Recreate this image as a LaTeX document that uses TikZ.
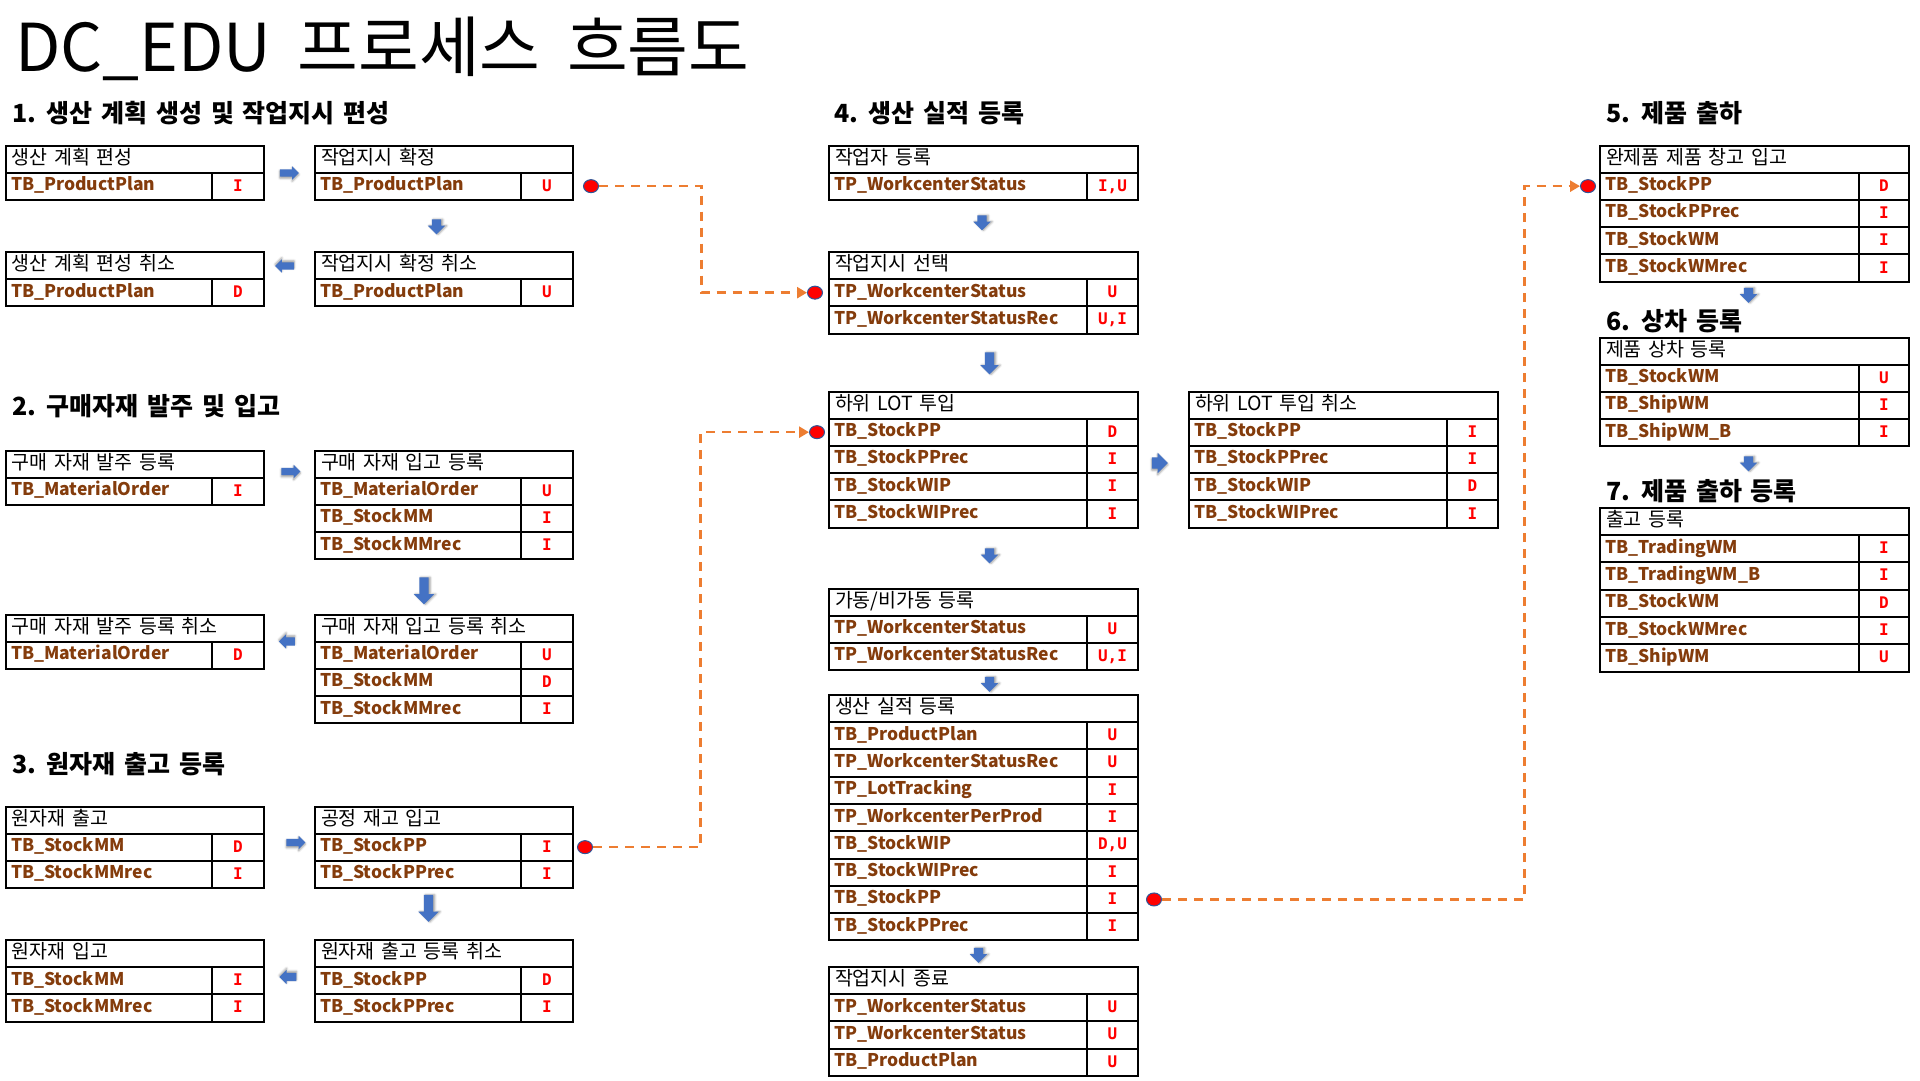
\documentclass[tikz,border=0pt]{standalone}
\usepackage{fontspec}
\setmainfont{Noto Sans CJK KR}
\newfontfamily\codefont{DejaVu Sans Mono}
\usetikzlibrary{shapes.arrows,shapes.geometric,positioning,arrows.meta}
\usetikzlibrary{backgrounds}
\usetikzlibrary{shadows.blur}

\definecolor{tblbrown}{RGB}{132,60,12}
\definecolor{arrowblue}{RGB}{68,114,196}
\definecolor{linkorange}{RGB}{237,125,49}
\definecolor{dotblue}{RGB}{47,85,151}

\newcommand{\widespace}[1]{\spaceskip=#1\relax}

% table: name, x, y, name column, code column, title, rows
\newcommand{\dbtable}[7]{%
  \pgfmathsetmacro{\tblw}{#4+#5-12}%
  \pgfmathsetmacro{\namew}{#4-10}%
  \node[tblhead, text width=\tblw pt, anchor=north west] (#1) at (#2,#3) {#6};
  \foreach \tname/\tcode [count=\k] in {#7}{
    \node[tblname, text width=\namew pt, anchor=north west] (#1-n\k) at (#2,#3+27+27.3*\k-27.3) {\tname};
    \node[tblcode, minimum width=#5pt, anchor=north west] (#1-c\k) at (#2+#4,#3+27+27.3*\k-27.3) {\tcode};
  }%
}

\begin{document}
\begin{tikzpicture}[x=1pt, y=-1pt,
  tblhead/.style={draw, line width=2pt, inner xsep=6pt, inner ysep=0pt, minimum height=27pt, align=left, text height=14pt, text depth=4pt, font={\fontsize{19.5}{21}\selectfont\widespace{0.4em}}},
  tblname/.style={draw, line width=2pt, inner xsep=5pt, inner ysep=0pt, minimum height=27.3pt, align=left, text height=13pt, text depth=4pt, text=tblbrown, font=\fontsize{17.5}{20}\selectfont\bfseries},
  tblcode/.style={draw, line width=2pt, inner sep=0pt, minimum height=27.3pt, text=red, text height=12pt, text depth=2pt, font=\codefont\bfseries\fontsize{16}{18}\selectfont},
  sechead/.style={anchor=west, inner sep=0pt, font={\fontsize{25}{27}\selectfont\bfseries\widespace{0.35em}}},
  blockarrow/.style={single arrow, fill=arrowblue, draw=none, inner xsep=0pt},
  arrowright/.style={blockarrow, blur shadow={shadow xshift=0pt, shadow yshift=-1.5pt, shadow blur steps=4}},
  arrowdown/.style={blockarrow, rotate=-90, blur shadow={shadow xshift=1.5pt, shadow yshift=0pt, shadow blur steps=4}},
  arrowleft/.style={blockarrow, rotate=180, blur shadow={shadow xshift=0pt, shadow yshift=1.5pt, shadow blur steps=4}},
  pindot/.style={ellipse, fill=red, draw=dotblue, line width=1pt, minimum width=15pt, minimum height=13pt, inner sep=0pt},
  linkline/.style={linkorange, line width=2.5pt, dash pattern=on 9pt off 7pt, -{Triangle[length=10pt,width=11pt]}}]
\useasboundingbox (0,0) rectangle (1920,1080);

% Title
\node[anchor=west, inner sep=0pt, font={\fontsize{66}{68}\selectfont\widespace{0.4em}}] (title) at (15,49) {DC\_EDU 프로세스 흐름도};

% 1. production plan
\node[sechead] (sec1) at (12,113) {1. 생산 계획 생성 및 작업지시 편성};
\dbtable{A1}{5}{144.5}{206}{52}{생산 계획 편성}{TB\_ProductPlan/I}
\dbtable{A2}{314}{144.5}{206}{52}{작업지시 확정}{TB\_ProductPlan/U}
\dbtable{A3}{5}{251}{206}{52}{생산 계획 편성 취소}{TB\_ProductPlan/D}
\dbtable{A4}{314}{251}{206}{52}{작업지시 확정 취소}{TB\_ProductPlan/U}
\node[arrowright, minimum height=19pt, inner ysep=3.5pt, single arrow head extend=3pt] (arA1) at (287.5,173) {};
\node[arrowdown, minimum height=15pt, inner ysep=4.5pt, single arrow head extend=4pt] (arA2) at (436.5,224.5) {};
\node[arrowleft, minimum height=19pt, inner ysep=3.5pt, single arrow head extend=3pt] (arA4) at (286.5,266) {};

% 2. purchase material
\node[sechead] (sec2) at (12,406.5) {2. 구매자재 발주 및 입고};
\dbtable{B1}{5}{449.5}{206}{52}{구매 자재 발주 등록}{TB\_MaterialOrder/I}
\dbtable{B2}{314}{449.5}{206}{52}{구매 자재 입고 등록}{TB\_MaterialOrder/U, TB\_StockMM/I, TB\_StockMMrec/I}
\dbtable{B3}{5}{613.5}{206}{52}{구매 자재 발주 등록 취소}{TB\_MaterialOrder/D}
\dbtable{B4}{314}{613.5}{206}{52}{구매 자재 입고 등록 취소}{TB\_MaterialOrder/U, TB\_StockMM/D, TB\_StockMMrec/I}
\node[arrowright, minimum height=19pt, inner ysep=3.5pt, single arrow head extend=3pt] (arB1) at (289,471.5) {};
\node[arrowdown, minimum height=27pt, inner ysep=4.5pt, single arrow head extend=5.5pt] (arB2) at (424,588.5) {};
\node[arrowleft, minimum height=16pt, inner ysep=4pt, single arrow head extend=3pt] (arB4) at (289,641.5) {};

% 3. raw material
\node[sechead] (sec3) at (12,764) {3. 원자재 출고 등록};
\dbtable{C1}{5}{805.5}{206}{52}{원자재 출고}{TB\_StockMM/D, TB\_StockMMrec/I}
\dbtable{C2}{314}{805.5}{206}{52}{공정 재고 입고}{TB\_StockPP/I, TB\_StockPPrec/I}
\dbtable{C3}{5}{939}{206}{52}{원자재 입고}{TB\_StockMM/I, TB\_StockMMrec/I}
\dbtable{C4}{314}{939}{206}{52}{원자재 출고 등록 취소}{TB\_StockPP/D, TB\_StockPPrec/I}
\node[arrowright, minimum height=19pt, inner ysep=3.5pt, single arrow head extend=3pt] (arC1) at (294,842.5) {};
\node[arrowdown, minimum height=27pt, inner ysep=4.5pt, single arrow head extend=5.5pt] (arC2) at (428.5,906) {};
\node[arrowleft, minimum height=17pt, inner ysep=4pt, single arrow head extend=3pt] (arC4) at (290,977) {};

% 4. production result
\node[sechead] (sec4) at (834,113) {4. 생산 실적 등록};
\dbtable{D1}{828}{144.5}{258}{51}{작업자 등록}{TP\_WorkcenterStatus/{I,U}}
\dbtable{D2}{828}{251}{258}{51}{작업지시 선택}{TP\_WorkcenterStatus/U, TP\_WorkcenterStatusRec/{U,I}}
\dbtable{D3}{828}{390.5}{258}{51}{하위 LOT 투입}{TB\_StockPP/D, TB\_StockPPrec/I, TB\_StockWIP/I, TB\_StockWIPrec/I}
\dbtable{D4}{1188}{390.5}{258}{51}{하위 LOT 투입 취소}{TB\_StockPP/I, TB\_StockPPrec/I, TB\_StockWIP/D, TB\_StockWIPrec/I}
\dbtable{D5}{828}{587.5}{258}{51}{가동/비가동 등록}{TP\_WorkcenterStatus/U, TP\_WorkcenterStatusRec/{U,I}}
\dbtable{D6}{828}{694}{258}{51}{생산 실적 등록}{TB\_ProductPlan/U, TP\_WorkcenterStatusRec/U, TP\_LotTracking/I, TP\_WorkcenterPerProd/I, TB\_StockWIP/{D,U}, TB\_StockWIPrec/I, TB\_StockPP/I, TB\_StockPPrec/I}
\dbtable{D7}{828}{966}{258}{51}{작업지시 종료}{TP\_WorkcenterStatus/U, TP\_WorkcenterStatus/U, TB\_ProductPlan/U}
\node[arrowdown, minimum height=15pt, inner ysep=4.5pt, single arrow head extend=4pt] (arD1) at (982,220.5) {};
\node[arrowdown, minimum height=22pt, inner ysep=4.5pt, single arrow head extend=4.5pt] (arD2) at (989.5,361) {};
\node[arrowright, minimum height=16pt, inner ysep=5.5pt, single arrow head extend=4.5pt] (arD3) at (1157,463) {};
\node[arrowdown, minimum height=15pt, inner ysep=4.5pt, single arrow head extend=4pt] (arD3b) at (989.5,553.5) {};
\node[arrowdown, minimum height=15pt, inner ysep=4.5pt, single arrow head extend=4pt] (arD5) at (989.5,682) {};
\node[arrowdown, minimum height=15pt, inner ysep=4.5pt, single arrow head extend=4pt] (arD6) at (978.5,953) {};

% 5-7. shipping
\node[sechead] (sec5) at (1606.5,113) {5. 제품 출하};
\dbtable{E1}{1599}{144.5}{259}{50}{완제품 제품 창고 입고}{TB\_StockPP/D, TB\_StockPPrec/I, TB\_StockWM/I, TB\_StockWMrec/I}
\node[sechead] (sec6) at (1606.5,321) {6. 상차 등록};
\dbtable{E2}{1599}{336.5}{259}{50}{제품 상차 등록}{TB\_StockWM/U, TB\_ShipWM/I, TB\_ShipWM\_B/I}
\node[sechead] (sec7) at (1606.5,491) {7. 제품 출하 등록};
\dbtable{E3}{1599}{507}{259}{50}{출고 등록}{TB\_TradingWM/I, TB\_TradingWM\_B/I, TB\_StockWM/D, TB\_StockWMrec/I, TB\_ShipWM/U}
\node[arrowdown, minimum height=15pt, inner ysep=4.5pt, single arrow head extend=4pt] (arE1) at (1748.5,293) {};
\node[arrowdown, minimum height=15pt, inner ysep=4.5pt, single arrow head extend=4pt] (arE2) at (1748.5,461.5) {};

% Links between steps
\node[pindot, right=9pt of A2-c1] (dotA2) {};
\node[pindot, left=5pt of D2-n1] (dotD2) {};
\node[pindot, right=3pt of C2-c1] (dotC2) {};
\node[pindot, left=3pt of D3-n1] (dotD3) {};
\node[pindot, right=7pt of D6-c7] (dotD6) {};
\node[pindot, left=3pt of E1-n1] (dotE1) {};
\coordinate (bendA) at (701.5,0);
\coordinate (bendC) at (700.5,0);
\coordinate (bendD) at (1524.5,0);
\begin{scope}[on background layer]
\draw[linkline] (dotA2) -- (dotA2 -| bendA) |- (dotD2);
\draw[linkline] (dotC2) -- (dotC2 -| bendC) |- (dotD3);
\draw[linkline] (dotD6) -- (dotD6 -| bendD) |- (dotE1);
\end{scope}
\end{tikzpicture}
\end{document}
